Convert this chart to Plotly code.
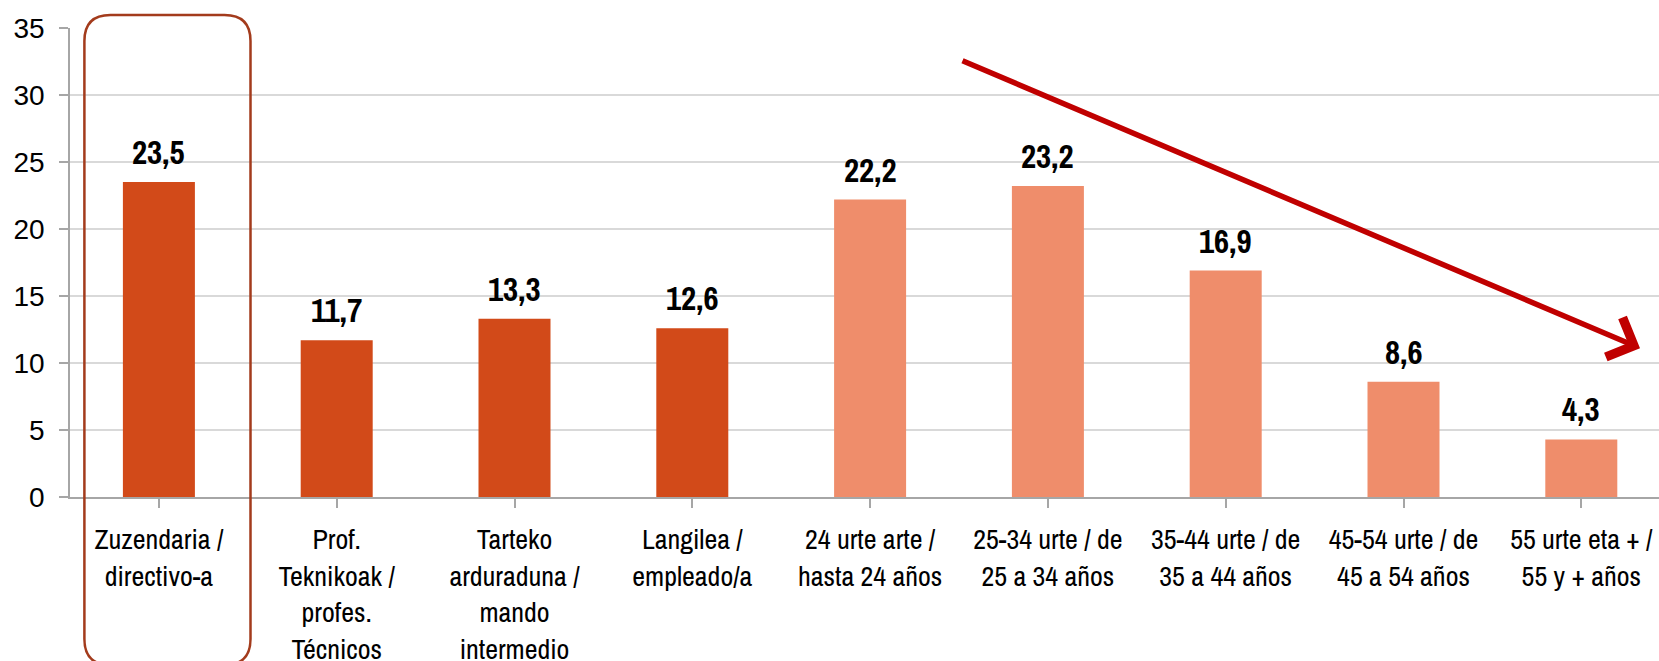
import plotly.graph_objects as go

categories = [
    "Zuzendaria /<br>directivo-a",
    "Prof.<br>Teknikoak /<br>profes.<br>Técnicos",
    "Tarteko<br>arduraduna /<br>mando<br>intermedio",
    "Langilea /<br>empleado/a",
    "24 urte arte /<br>hasta 24 años",
    "25-34 urte / de<br>25 a 34 años",
    "35-44 urte / de<br>35 a 44 años",
    "45-54 urte / de<br>45 a 54 años",
    "55 urte eta + /<br>55 y + años",
]
values = [23.5, 11.7, 13.3, 12.6, 22.2, 23.2, 16.9, 8.6, 4.3]
groups = ["occ", "occ", "occ", "occ", "age", "age", "age", "age", "age"]
y_ticks = [0, 5, 10, 15, 20, 25, 30, 35]

DARK = "#D24A19"
LIGHT = "#EF8D6B"
colors = [DARK if g == "occ" else LIGHT for g in groups]

W, H = 1659, 661
ML, MT, MB = 70, 27.5, 164
plot_w = W - ML
cat_px = 177.8
x_right = -0.5 + plot_w / cat_px

NARROW = "Archivo Narrow, Liberation Sans Narrow, Arial Narrow, Liberation Sans"

fig = go.Figure()
fig.add_trace(go.Bar(
    x=list(range(len(values))), y=values,
    marker=dict(color=colors, line=dict(width=0)),
    width=0.405, hoverinfo="skip",
))

for i, v in enumerate(values):
    fig.add_annotation(
        x=i, y=v, xref="x", yref="y", text=f"{v:.1f}".replace(".", ","),
        showarrow=False, yanchor="bottom", yshift=6,
        font=dict(family=NARROW, size=33, color="black", weight="bold"),
    )

# trend arrow
head_x, head_y = 1640, 348
tail_x, tail_y = 961, 60
fig.add_annotation(
    xref="paper", yref="paper",
    x=(head_x - ML) / plot_w, y=((H - MB) - head_y) / (H - MB - MT),
    ax=tail_x - head_x, ay=tail_y - head_y,
    text="", showarrow=True, arrowhead=4, arrowsize=1.5, arrowwidth=5.5,
    arrowcolor="#C00000", standoff=0,
)

# rounded highlight box around first category
L, R, T, B, r = -74.5, 91.6, 482, -168, 26
path = (f"M{L + r},{T} L{R - r},{T} Q{R},{T} {R},{T - r} L{R},{B + r} "
        f"Q{R},{B} {R - r},{B} L{L + r},{B} Q{L},{B} {L},{B + r} "
        f"L{L},{T - r} Q{L},{T} {L + r},{T} Z")
fig.add_shape(
    type="path", path=path, xref="x", yref="paper",
    xsizemode="pixel", ysizemode="pixel", xanchor=0, yanchor=0,
    line=dict(color="#A33B1C", width=2.5), fillcolor="rgba(0,0,0,0)",
    layer="above",
)

fig.update_layout(
    width=W, height=H,
    margin=dict(l=ML, r=0, t=MT, b=MB, pad=0, autoexpand=False),
    plot_bgcolor="white", paper_bgcolor="white",
    showlegend=False, bargap=0.595,
    font=dict(family="Liberation Sans, Arial", color="black"),
    xaxis=dict(
        range=[-0.5, x_right], tickmode="array",
        tickvals=list(range(len(categories))), ticktext=categories,
        tickangle=0, tickson="boundaries", ticks="outside", ticklen=9,
        tickcolor="#A6A6A6", tickwidth=1.5, ticklabeloverflow="allow",
        ticklabelstandoff=8,
        showline=True, linecolor="#A6A6A6", linewidth=1.5,
        showgrid=False, zeroline=False, automargin=False,
        tickfont=dict(family=NARROW, size=28, color="black"),
    ),
    yaxis=dict(
        range=[0, 35], tickmode="array", tickvals=y_ticks,
        ticks="outside", ticklen=9, tickcolor="#A6A6A6", tickwidth=1.5,
        showline=True, linecolor="#A6A6A6", linewidth=1.5,
        showgrid=True, gridcolor="#D9D9D9", gridwidth=1.5,
        zeroline=False, automargin=False, ticklabelstandoff=9,
        tickfont=dict(family="Liberation Sans, Arial", size=28, color="black"),
    ),
)

fig.write_html(
    "out.html",
    config={"displayModeBar": False},
    post_script="document.body.style.margin='0';document.body.style.overflow='hidden';",
)
